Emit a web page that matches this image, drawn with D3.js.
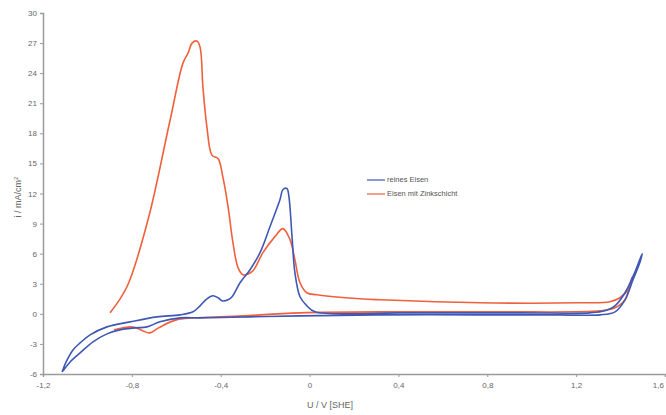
<!DOCTYPE html>
<html>
<head>
<meta charset="utf-8">
<script src="https://cdn.jsdelivr.net/npm/d3@7"></script>
<style>
  body { margin: 0; background: #fff; }
  svg { font-family: Arial, "Liberation Sans", sans-serif; }
  .axis path, .axis line { stroke: #9a9a9a; }
  .axis text { fill: #666; font-size: 8px; }
</style>
</head>
<body>
<div id="chart"></div>
<script>
const Width = 666;
const Height = 415;

// x ticks (potential, V vs SHE) and y ticks (current density, mA/cm²)
const xTicks = [-1.2, -0.8, -0.4, 0, 0.4, 0.8, 1.2, 1.6];
const yTicks = [-6, -3, 0, 3, 6, 9, 12, 15, 18, 21, 24, 27, 30];

// reines Eisen, in scan order
const eisenU = [-1.114, -1.096, -1.065, -1.033, -0.988, -0.912, -0.808, -0.687, -0.583, -0.525,
  -0.493, -0.462, -0.435, -0.412, -0.394, -0.367, -0.349, -0.313, -0.268, -0.223,
  -0.178, -0.133, -0.120, -0.102, -0.093, -0.079, -0.066, -0.043, -0.012, 0.024,
  0.407, 0.947, 1.262, 1.330, 1.375, 1.420, 1.465, 1.497, 1.488, 1.456,
  1.420, 1.375, 1.307, 1.127, 0.767, 0.317, -0.043, -0.268, -0.493, -0.583,
  -0.674, -0.732, -0.786, -0.854, -0.912, -0.975, -1.033, -1.078, -1.110];
const eisenI = [-5.8, -4.8, -3.6, -2.9, -2.1, -1.3, -0.8, -0.3, -0.1, 0.2,
  0.8, 1.5, 1.8, 1.6, 1.3, 1.4, 1.7, 3.1, 4.4, 6.1,
  8.7, 11.4, 12.4, 12.5, 11.7, 7.7, 4.1, 1.7, 0.8, 0.2,
  0.1, 0.1, 0.1, 0.3, 0.8, 2.1, 4.2, 6.0, 5.2, 3.4,
  1.4, 0.2, -0.1, -0.1, -0.1, -0.1, -0.2, -0.3, -0.4, -0.4,
  -0.8, -1.3, -1.4, -1.6, -2.0, -2.8, -3.9, -4.8, -5.7];

// Eisen mit Zinkschicht, in scan order
const zinkU = [-0.898, -0.822, -0.727, -0.628, -0.570, -0.547, -0.529, -0.507, -0.493, -0.480,
  -0.462, -0.439, -0.412, -0.390, -0.367, -0.345, -0.322, -0.300, -0.259, -0.210,
  -0.156, -0.120, -0.088, -0.066, -0.043, -0.012, 0.033, 0.227, 0.317, 0.767,
  1.217, 1.352, 1.397, 1.433, 1.451, 1.442, 1.420, 1.375, 1.307, 0.857,
  0.407, -0.043, -0.300, -0.400, -0.600, -0.680, -0.720, -0.750, -0.780, -0.810,
  -0.860, -0.880];
const zinkI = [0.1, 2.7, 9.4, 19.3, 25.0, 26.0, 27.0, 27.2, 26.6, 22.6,
  18.6, 15.8, 15.5, 13.6, 10.7, 7.1, 4.6, 3.9, 4.2, 6.1,
  7.7, 8.5, 7.4, 5.4, 3.1, 2.1, 1.9, 1.5, 1.4, 1.1,
  1.1, 1.2, 1.6, 2.4, 3.6, 2.9, 1.4, 0.6, 0.3, 0.2,
  0.2, 0.1, -0.2, -0.3, -0.6, -1.4, -1.9, -1.7, -1.4, -1.3,
  -1.5, -1.6];

const seriesNames = ['reines Eisen', 'Eisen mit Zinkschicht'];
const seriesColors = ['#3f58b5', '#f0603c'];

const fmt = d => String(d).replace('.', ',');

const svg = d3.select('#chart').append('svg')
  .attr('width', Width)
  .attr('height', Height);

const x = d3.scaleLinear().domain([-1.2, 1.6]).range([43, 665]);
const y = d3.scaleLinear().domain([-6, 30]).range([374, 13]);

// y axis
svg.append('g')
  .attr('class', 'axis')
  .attr('transform', 'translate(' + x(-1.2) + ',0)')
  .call(d3.axisLeft(y).tickValues(yTicks).tickSize(3).tickPadding(3).tickFormat(fmt));

// x axis
const xAxis = svg.append('g')
  .attr('class', 'axis')
  .attr('transform', 'translate(0,' + y(-6) + ')')
  .call(d3.axisBottom(x).tickValues(xTicks).tickSize(3).tickPadding(5).tickFormat(fmt));

// last label sits at the right edge, keep it inside
xAxis.selectAll('.tick text')
  .filter(d => d === 1.6)
  .attr('text-anchor', 'end')
  .attr('dx', '-0.2em');

svg.selectAll('.axis path').attr('stroke-width', 1.5);

// axis titles
svg.append('text')
  .attr('x', 330).attr('y', 408)
  .attr('text-anchor', 'middle')
  .attr('fill', '#666').style('font-size', '9px')
  .text('U / V [SHE]');

svg.append('text')
  .attr('transform', 'translate(21,197) rotate(-90)')
  .attr('text-anchor', 'middle')
  .attr('fill', '#666').style('font-size', '9px')
  .html('i / mA/cm<tspan dy="-3" font-size="6px">2</tspan>');

// curves
const line = d3.line()
  .x(d => x(d[0]))
  .y(d => y(d[1]))
  .curve(d3.curveCatmullRom.alpha(0.5));

const series = [
  d3.zip(eisenU, eisenI),
  d3.zip(zinkU, zinkI)
];

// draw zinc first so the iron curve sits on top where they overlap
[1, 0].forEach(i => {
  svg.append('path')
    .datum(series[i])
    .attr('fill', 'none')
    .attr('stroke', seriesColors[i])
    .attr('stroke-width', 1.6)
    .attr('stroke-linejoin', 'round')
    .attr('d', line);
});

// legend
const legend = svg.selectAll('.legend')
  .data(seriesNames)
  .enter().append('g')
  .attr('class', 'legend')
  .attr('transform', (d, i) => 'translate(367,' + (180 + i * 14) + ')');

legend.append('line')
  .attr('x1', 0).attr('x2', 18)
  .attr('stroke', (d, i) => seriesColors[i])
  .attr('stroke-width', 1.2);

legend.append('text')
  .attr('x', 20).attr('dy', '0.32em')
  .attr('fill', '#555').style('font-size', '7.5px')
  .text(d => d);
</script>
</body>
</html>
